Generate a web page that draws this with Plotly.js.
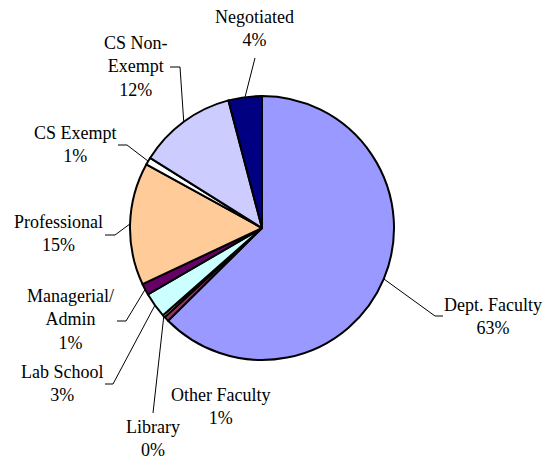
<!DOCTYPE html>
<html>
<head>
<meta charset="utf-8">
<script src="https://cdn.plot.ly/plotly-3.0.1.min.js"></script>
<style>html,body{margin:0;padding:0;background:#fff;}#chart{width:546px;height:459px;}</style>
</head>
<body>
<div id="chart"></div>
<script>
// ---- data ----
var categories = ["Dept. Faculty", "Other Faculty", "Library", "Lab School", "Managerial/<br>Admin", "Professional", "CS Exempt", "CS Non-<br>Exempt", "Negotiated"];
var values = [62.6, 0.6, 0.3, 3.1, 1.4, 15.0, 0.9, 12.0, 4.1];
var pctLabels = ["63%", "1%", "0%", "3%", "1%", "15%", "1%", "12%", "4%"];
var colors = ["#9999FF", "#993366", "#FFFFCC", "#CCFFFF", "#660066", "#FFCC99", "#FFFFFF", "#CCCCFF", "#000080"];

// ---- layout constants (pixels) ----
var W = 546, H = 459;
var CX = 262, CY = 228, R = 132;
// label block centres
var labelPos = [[493,316],[220,406],[153,438],[62,383],[70,319],[58,234],[75,144],[136,67],[254,28]];
// leader line label-side points (null = no leader)
var leaderStart = [
  [[443,316],[435,316]],
  null,
  [[153,413]],
  [[105,384],[113,384]],
  [[117,321],[126,321]],
  [[105,235],[115,235]],
  [[118,145],[127,145]],
  [[170,67],[180,67]],
  [[255,58]]
];

function px(x){ return x / W; }
function py(y){ return 1 - y / H; }

var FONT = "'Liberation Serif', 'Times New Roman', Times, serif";
var total = values.reduce(function(a,b){return a+b;}, 0);
var annotations = [], shapes = [];
var cum = 0;
for (var i = 0; i < values.length; i++) {
  var mid = (cum + values[i] / 2) / total * 2 * Math.PI;
  cum += values[i];
  var ex = CX + R * Math.sin(mid), ey = CY - R * Math.cos(mid);
  annotations.push({
    xref: 'paper', yref: 'paper', x: px(labelPos[i][0]), y: py(labelPos[i][1]),
    xanchor: 'center', yanchor: 'middle', align: 'center', showarrow: false,
    text: categories[i] + '<br>' + pctLabels[i],
    font: {family: FONT, size: 18, color: '#000'}
  });
  if (leaderStart[i]) {
    var pts = leaderStart[i].concat([[ex, ey]]);
    var d = pts.map(function(p, k){ return (k ? 'L' : 'M') + px(p[0]) + ',' + py(p[1]); }).join(' ');
    shapes.push({type: 'path', xref: 'paper', yref: 'paper', path: d, line: {color: '#000', width: 1}});
  }
}

var trace = {
  type: 'pie',
  labels: categories,
  values: values,
  sort: false,
  direction: 'clockwise',
  rotation: 0,
  textinfo: 'none',
  hoverinfo: 'none',
  showlegend: false,
  marker: {colors: colors, line: {color: '#000', width: 2}},
  domain: {x: [px(CX - R), px(CX + R)], y: [py(CY + R), py(CY - R)]}
};

var layout = {
  width: W, height: H,
  margin: {l: 0, r: 0, t: 0, b: 0},
  paper_bgcolor: '#fff', plot_bgcolor: '#fff',
  font: {family: FONT, size: 18, color: '#000'},
  showlegend: false,
  annotations: annotations,
  shapes: shapes
};

Plotly.newPlot('chart', [trace], layout, {displayModeBar: false, staticPlot: true});
</script>
</body>
</html>
